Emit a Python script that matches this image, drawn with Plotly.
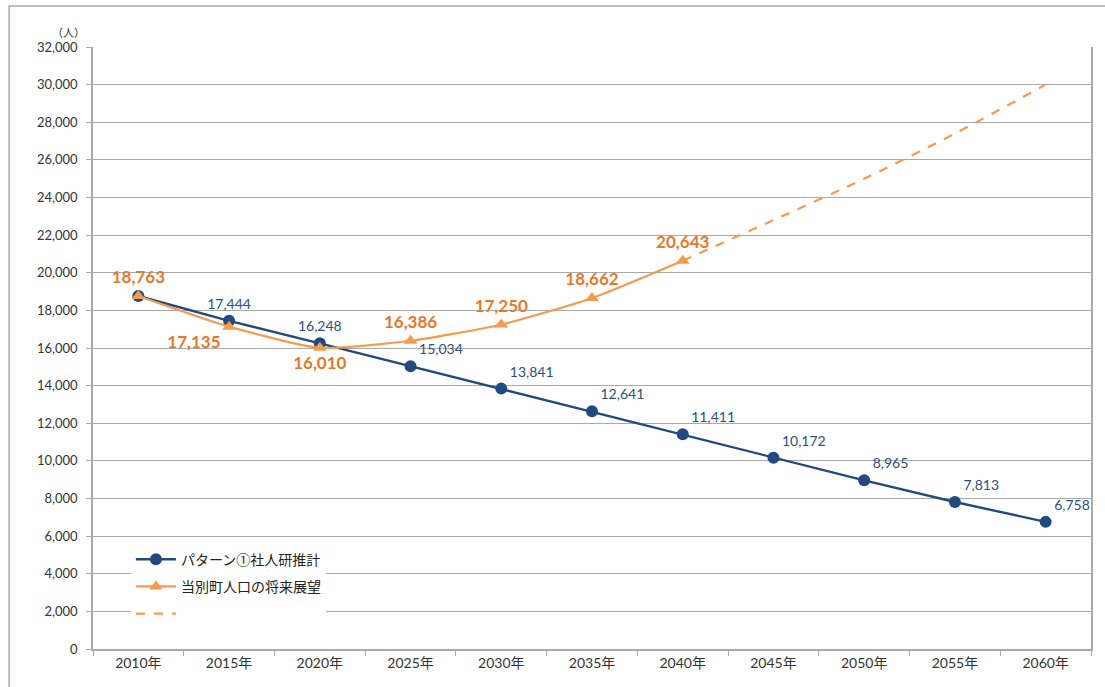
import plotly.graph_objects as go

years = ["2010年", "2015年", "2020年", "2025年", "2030年", "2035年",
         "2040年", "2045年", "2050年", "2055年", "2060年"]
pattern1 = [18763, 17444, 16248, 15034, 13841, 12641, 11411, 10172, 8965, 7813, 6758]
outlook_years = years[:7]
outlook = [18763, 17135, 16010, 16386, 17250, 18662, 20643]
ext_years = years[6:]
outlook_ext = [20643, 22800, 25000, 27400, 30000]
y_ticks = list(range(0, 32001, 2000))

NAVY = "#234A7E"
NAVY_TXT = "#2B4F82"
ORANGE = "#F59A4E"
ORANGE_TXT = "#E5792A"
GRID = "#A9A9A9"
NUMFONT = "Lato, 'Noto Sans CJK JP', sans-serif"
JPFONT = "'Noto Sans CJK JP', sans-serif"

fig = go.Figure()

navy_text = [""] + [f"{v:,}" for v in pattern1[1:]]
navy_pos = ["top right", "top center", "top center"] + ["top right"] * 8
fig.add_trace(go.Scatter(
    x=years, y=pattern1, name="パターン①社人研推計",
    mode="lines+markers+text",
    line=dict(color=NAVY, width=2.4),
    marker=dict(symbol="circle", size=12, color=NAVY),
    text=navy_text, textposition=navy_pos,
    textfont=dict(family=NUMFONT, size=14, color=NAVY_TXT),
    legendgroup="a", cliponaxis=False,
))

orange_text = [f"{v:,}" for v in outlook]
orange_pos = ["top center", "bottom left", "bottom center", "top center",
              "top center", "top center", "top center"]
fig.add_trace(go.Scatter(
    x=outlook_years, y=outlook, name="当別町人口の将来展望",
    mode="lines+markers+text",
    line=dict(color=ORANGE, width=2.2, shape="spline", smoothing=0.6),
    marker=dict(symbol="triangle-up", size=12, color=ORANGE),
    text=orange_text, textposition=orange_pos,
    textfont=dict(family=NUMFONT, size=17, color=ORANGE_TXT, weight="bold"),
    legendgroup="b", cliponaxis=False,
))

fig.add_trace(go.Scatter(
    x=ext_years, y=outlook_ext, name=" ",
    mode="lines",
    line=dict(color=ORANGE, width=2.2, dash="dash", shape="spline", smoothing=0.8),
    legendgroup="c",
))

fig.update_layout(
    width=1105, height=687,
    margin=dict(l=93, r=12, t=47, b=38),
    paper_bgcolor="white", plot_bgcolor="white",
    font=dict(family=NUMFONT, size=13, color="#333333"),
    showlegend=True,
    legend=dict(
        x=0.038, y=0.175, xanchor="left", yanchor="top",
        bgcolor="white", borderwidth=0,
        font=dict(family=JPFONT, size=14, color="#222222"),
        tracegroupgap=6, itemwidth=40,
    ),
    xaxis=dict(
        type="category", categoryorder="array", categoryarray=years,
        showgrid=False, showline=True, linecolor=GRID, linewidth=1.5,
        ticks="outside", tickson="boundaries", ticklen=5, tickcolor=GRID,
        tickfont=dict(family=NUMFONT, size=14, color="#333333"),
        range=[-0.5, len(years) - 0.5],
    ),
    yaxis=dict(
        range=[0, 32000], tickvals=y_ticks, tickformat=",",
        showgrid=True, gridcolor=GRID, gridwidth=1.3,
        showline=True, mirror=True, linecolor=GRID, linewidth=1.5,
        ticks="outside", ticklen=5, tickcolor=GRID,
        tickfont=dict(family=NUMFONT, size=13, color="#333333"),
        ticklabelstandoff=6, zeroline=False,
    ),
    shapes=[dict(type="rect", xref="paper", yref="paper",
                 x0=-0.084, x1=1.02, y0=-0.07, y1=1.068,
                 line=dict(color="#AAAAAA", width=1.5), layer="below")],
    annotations=[dict(text="（人）", xref="paper", yref="paper",
                      x=-0.043, y=1.042, showarrow=False,
                      font=dict(family=JPFONT, size=11, color="#333333"))],
)

fig.write_html("out.html")
